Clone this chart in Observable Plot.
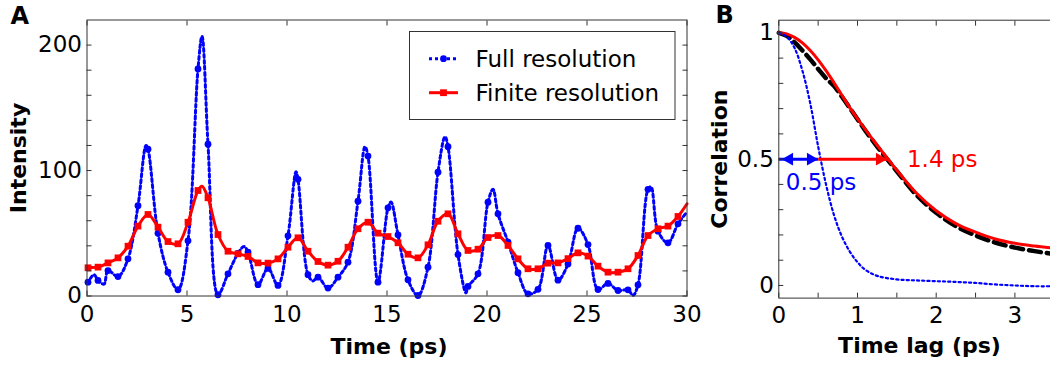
<!DOCTYPE html>
<html><head><meta charset="utf-8">
<script src="https://cdn.jsdelivr.net/npm/d3@7"></script>
<script src="https://cdn.jsdelivr.net/npm/@observablehq/plot@0.6"></script>
<style>
html,body{margin:0;padding:0;background:#fff;overflow:hidden;}
#wrap{position:relative;width:1050px;height:367px;overflow:hidden;background:#fff;}
</style></head><body><div id="wrap"></div>
<script>
// ---------- Panel A data ----------
const sampleTime = [0.05,0.55,1.05,1.55,2.05,2.55,3.05,3.55,4.05,4.55,
  5.05,5.55,6.05,6.55,7.05,7.55,8.05,8.55,9.05,9.55,
  10.05,10.55,11.05,11.55,12.05,12.55,13.05,13.55,14.05,14.55,
  15.05,15.55,16.05,16.55,17.05,17.55,18.05,18.55,19.05,19.55,
  20.05,20.55,21.05,21.55,22.05,22.55,23.05,23.55,24.05,24.55,
  25.05,25.55,26.05,26.55,27.05,27.55,28.05,28.55,29.05,29.55];
const fullIntensity = [11,12.4,20.3,15.5,29.6,72,117,50,19,5,
  44,181,121,1,17.7,34,35,9,22,8.4,
  48,93,17,15,6.3,15,27,75.6,111.5,11,
  70.3,48.8,12.9,0.4,23,98.7,119,33,7.6,17.7,
  74.8,65.5,43,18.6,1.7,5.3,40.3,12.6,25.5,54,
  41,5.2,10,4.4,4.9,8.9,85,51.7,42.4,57.5];
const finiteIntensity = [22.5,23,26.4,30.4,39.7,55.7,65,54.9,43.4,41.6,
  58.8,84.1,78.3,49,35.7,33.6,31.5,26.4,26.2,29.6,
  38.9,46.4,35.7,27.5,24.6,27.7,38.9,53.6,58.8,50.1,
  47.4,42.4,33.3,30.4,40.8,59.6,65.5,49.6,36.3,37.3,
  46.6,48.2,40.3,29.6,21.7,21.7,26.2,26.4,29.8,34.4,
  31.8,23.8,19,19,21.7,32.3,48.2,53.6,55.7,63.4];
// extra points of the finely sampled curves (peaks / troughs between markers)
const fullPeakTime = [0,0.35,0.85,2.95,5.75,7.85,10.45,11.3,13.9,15.2,17.9,18.95,20.3,27.3,28.2,30];
const fullPeakIntensity = [10,17,9.5,120,207,39.5,99,12,119,75,127,2.5,85,0.5,87,67];
const finitePeakTime = [0,5.75,30];
const finitePeakIntensity = [22,87.5,73.5];
const legendLabels = ["Full resolution","Finite resolution"];
const xTicksA = [0,5,10,15,20,25,30];
const yTicksA = [0,20,40,60,80,100,120,140,160,180,200];
const yLabelsA = [0,100,200];

// ---------- Panel B data ----------
const lag = [0,0.1,0.2,0.3,0.4,0.5,0.6,0.7,0.8,0.9,1.0,1.1,1.25,1.5,1.75,2.0,2.25,2.5,2.75,3.0,3.25,3.5];
const corrFull = [1,0.985,0.94,0.85,0.72,0.55,0.40,0.28,0.195,0.135,0.092,0.062,0.038,0.024,0.02,0.017,0.014,0.01,0.004,0,-0.003,-0.003];
const corrFinite = [1,0.996,0.982,0.96,0.93,0.893,0.85,0.803,0.754,0.705,0.66,0.617,0.555,0.456,0.365,0.296,0.245,0.211,0.184,0.167,0.156,0.147];
const corrFit = [1,0.988,0.962,0.93,0.895,0.857,0.82,0.79,0.748,0.703,0.658,0.613,0.55,0.452,0.358,0.288,0.235,0.198,0.17,0.15,0.136,0.124];
const halfMax = 0.5;
const widthValues = [0.5,1.4];
const widthLabels = ["0.5 ps","1.4 ps"];
const lagTicks = [0,0.5,1,1.5,2,2.5,3,3.5];
const lagLabels = [0,1,2,3];
const corrTicks = [0,0.1,0.2,0.3,0.4,0.5,0.6,0.7,0.8,0.9,1];
const corrLabels = [0,0.5,1];

const BLUE = "#0000ff", RED = "#ff0000", AX = "#333";
const FONT = "DejaVu Sans";

// ---------- build tables ----------
const fullSamples = sampleTime.map((t,i)=>({t, v: fullIntensity[i]}));
const finiteSamples = sampleTime.map((t,i)=>({t, v: finiteIntensity[i]}));
const fullCurve = fullSamples.concat(fullPeakTime.map((t,i)=>({t, v: fullPeakIntensity[i]}))).sort((a,b)=>a.t-b.t);
const finiteCurve = finiteSamples.concat(finitePeakTime.map((t,i)=>({t, v: finitePeakIntensity[i]}))).sort((a,b)=>a.t-b.t);
const corr = lag.map((t,i)=>({t, full: corrFull[i], finite: corrFinite[i], fit: corrFit[i]}));

const wrap = document.getElementById("wrap");

// ---------- Panel A ----------
const chartA = Plot.plot({
  width: 700, height: 367,
  marginLeft: 86.5, marginRight: 13.5, marginTop: 19.5, marginBottom: 71.5,
  style: {fontFamily: FONT, fontSize: "23px", color: "black", background: "transparent", overflow: "visible"},
  x: {domain: [0,30]},
  y: {domain: [0,220]},
  marks: [
    Plot.line(fullCurve, {x:"t", y:"v", stroke: BLUE, strokeWidth: 3, strokeDasharray: "3,3", curve: "catmull-rom"}),
    Plot.dot(fullSamples, {x:"t", y:"v", r: 3.4, fill: BLUE, stroke: "none"}),
    Plot.line(finiteCurve, {x:"t", y:"v", stroke: RED, strokeWidth: 3, curve: "catmull-rom"}),
    Plot.dot(finiteSamples, {x:"t", y:"v", symbol: "square", r: 3.8, fill: RED, stroke: "none"}),
    Plot.frame({stroke: AX}),
    Plot.axisX({anchor:"bottom", ticks: xTicksA, tickSize: -5, fill: "none", stroke: AX, label: null}),
    Plot.axisX({anchor:"top", ticks: xTicksA, tickSize: -5, fill: "none", stroke: AX, label: null}),
    Plot.axisY({anchor:"left", ticks: yTicksA, tickSize: -5, fill: "none", stroke: AX, label: null}),
    Plot.axisY({anchor:"right", ticks: yTicksA, tickSize: -5, fill: "none", stroke: AX, label: null}),
    Plot.axisX({anchor:"bottom", ticks: xTicksA, tickSize: 0, tickPadding: 10, tickFormat: d => String(d), label: null, fill: "black"}),
    Plot.axisY({anchor:"left", ticks: yLabelsA, tickSize: 0, tickPadding: 5, tickFormat: d => String(d), label: null, fill: "black"}),
    Plot.text(["Time (ps)"], {text: d => d, frameAnchor: "bottom", textAnchor: "middle", lineAnchor: "top", dx: 2, dy: 42, fontWeight: "bold", fontSize: 22}),
    Plot.text(["Intensity"], {text: d => d, frameAnchor: "left", textAnchor: "middle", lineAnchor: "middle", rotate: -90, dx: -68, fontWeight: "bold", fontSize: 22}),
    Plot.text(["A"], {text: d => d, frameAnchor: "top-left", textAnchor: "start", lineAnchor: "top", dx: -76.5, dy: -13.5, fontWeight: "bold", fontSize: 24})
  ]
});
chartA.style.position = "absolute"; chartA.style.left = "0px"; chartA.style.top = "0px";
wrap.appendChild(chartA);

// legend inside panel A
{
  const svg = d3.select(chartA);
  const g = svg.append("g").attr("font-family", FONT).attr("font-size", 23).attr("text-anchor", "start");
  g.append("rect").attr("x", 409.5).attr("y", 31.5).attr("width", 265.5).attr("height", 88)
    .attr("fill", "white").attr("stroke", AX).attr("stroke-width", 1);
  const rows = [58.7, 92.7];
  // Full resolution
  g.append("line").attr("x1", 429).attr("x2", 458).attr("y1", rows[0]).attr("y2", rows[0])
    .attr("stroke", BLUE).attr("stroke-width", 3).attr("stroke-dasharray", "3,3");
  g.append("circle").attr("cx", 443.5).attr("cy", rows[0]).attr("r", 3.4).attr("fill", BLUE);
  g.append("text").attr("x", 475.5).attr("y", rows[0]).attr("dy", "0.36em").attr("text-anchor", "start").attr("fill", "black").text(legendLabels[0]);
  // Finite resolution
  g.append("line").attr("x1", 429).attr("x2", 458).attr("y1", rows[1]).attr("y2", rows[1])
    .attr("stroke", RED).attr("stroke-width", 3);
  g.append("rect").attr("x", 443.5 - 3.4).attr("y", rows[1] - 3.4).attr("width", 6.8).attr("height", 6.8).attr("fill", RED);
  g.append("text").attr("x", 475.5).attr("y", rows[1]).attr("dy", "0.36em").attr("text-anchor", "start").attr("fill", "black").text(legendLabels[1]);
}

// ---------- Panel B ----------
const arrows = [
  {x1: 0, x2: widthValues[0], y: halfMax, c: BLUE},
  {x1: widthValues[0], x2: widthValues[1], y: halfMax, c: RED}
];
const chartB = Plot.plot({
  width: 380, height: 367,
  marginLeft: 88.3, marginRight: 16.25, marginTop: 19.7, marginBottom: 69.4,
  style: {fontFamily: FONT, fontSize: "23px", color: "black", background: "transparent", overflow: "visible"},
  x: {domain: [0,3.5]},
  y: {domain: [-0.05,1.05]},
  marks: [
    Plot.line(corr, {x:"t", y:"fit", stroke: "black", strokeWidth: 4.5, strokeDasharray: "12,6", curve: "catmull-rom"}),
    Plot.line(corr, {x:"t", y:"finite", stroke: RED, strokeWidth: 3, curve: "catmull-rom"}),
    Plot.line(corr, {x:"t", y:"full", stroke: BLUE, strokeWidth: 2.2, strokeDasharray: "2.2,3", curve: "catmull-rom"}),
    Plot.link(arrows, {x1:"x1", x2:"x2", y1:"y", y2:"y", stroke:"c", strokeWidth: 3}),
    Plot.dot([{x: 0, y: halfMax}], {x:"x", y:"y", symbol:"triangle", rotate: -90, r: 4.8, fill: BLUE, stroke: "none", dx: 10.5}),
    Plot.dot([{x: widthValues[0], y: halfMax}], {x:"x", y:"y", symbol:"triangle", rotate: 90, r: 4.8, fill: BLUE, stroke: "none", dx: -7.5}),
    Plot.dot([{x: widthValues[1], y: halfMax}], {x:"x", y:"y", symbol:"triangle", rotate: 90, r: 4.8, fill: RED, stroke: "none", dx: -9.3}),
    Plot.text([{x: widthValues[1], y: halfMax, s: widthLabels[1]}], {x:"x", y:"y", text:"s", fill: RED, textAnchor:"start", lineAnchor:"middle", dx: 18, fontSize: 23}),
    Plot.text([{x: 0, y: halfMax, s: widthLabels[0]}], {x:"x", y:"y", text:"s", fill: BLUE, textAnchor:"start", lineAnchor:"middle", dx: 7, dy: 23, fontSize: 23}),
    Plot.frame({stroke: AX}),
    Plot.axisX({anchor:"bottom", ticks: lagTicks, tickSize: -5, fill: "none", stroke: AX, label: null}),
    Plot.axisX({anchor:"top", ticks: lagTicks, tickSize: -5, fill: "none", stroke: AX, label: null}),
    Plot.axisY({anchor:"left", ticks: corrTicks, tickSize: -5, fill: "none", stroke: AX, label: null}),
    Plot.axisX({anchor:"bottom", ticks: lagLabels, tickSize: 0, tickPadding: 9, tickFormat: d => String(d), label: null, fill: "black"}),
    Plot.axisY({anchor:"left", ticks: corrLabels, tickSize: 0, tickPadding: 5, tickFormat: d => String(d), label: null, fill: "black"}),
    Plot.text(["Time lag (ps)"], {text: d => d, frameAnchor: "bottom", textAnchor: "middle", lineAnchor: "top", dx: 3, dy: 39, fontWeight: "bold", fontSize: 22}),
    Plot.text(["Correlation"], {text: d => d, frameAnchor: "left", textAnchor: "middle", lineAnchor: "middle", rotate: -90, dx: -59.3, fontWeight: "bold", fontSize: 22}),
    Plot.text(["B"], {text: d => d, frameAnchor: "top-left", textAnchor: "start", lineAnchor: "top", dx: -63.3, dy: -14.7, fontWeight: "bold", fontSize: 24})
  ]
});
chartB.style.position = "absolute"; chartB.style.left = "690px"; chartB.style.top = "0px";
wrap.appendChild(chartB);
</script>
</body></html>
